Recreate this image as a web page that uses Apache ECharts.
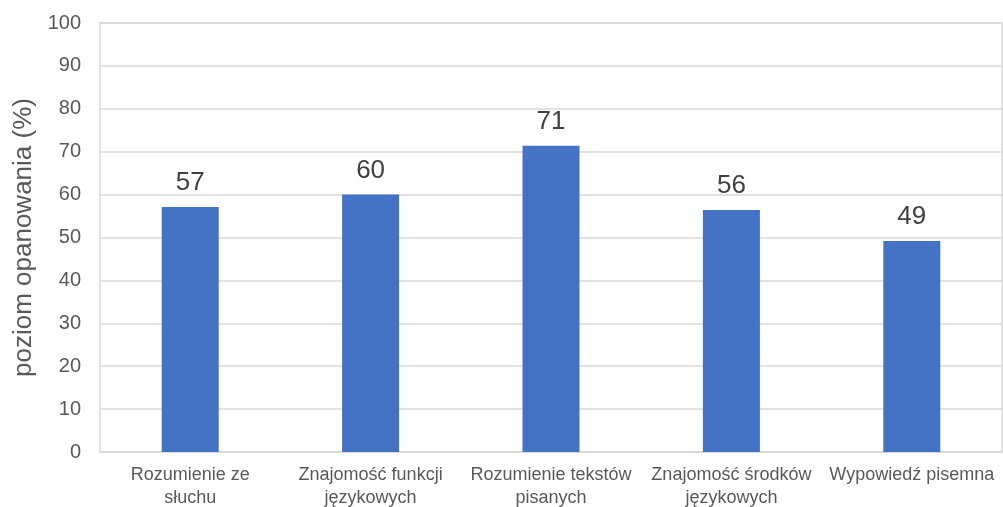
<!DOCTYPE html>
<html>
<head>
<meta charset="utf-8">
<script src="https://cdn.jsdelivr.net/npm/echarts@6/dist/echarts.min.js"></script>
<style>html,body{margin:0;padding:0;background:#fff;}#c{width:1003px;height:507px;}</style>
</head>
<body>
<div id="c"></div>
<script>
var categories = ["Rozumienie ze\nsłuchu", "Znajomość funkcji\njęzykowych", "Rozumienie tekstów\npisanych", "Znajomość środków\njęzykowych", "Wypowiedź pisemna"];
var values = [57.1, 60.0, 71.4, 56.4, 49.2];
var yTicks = {min: 0, max: 100, interval: 10};
var yName = "poziom opanowania (%)";

var chart = echarts.init(document.getElementById('c'), null, {renderer: 'canvas'});
chart.setOption({
  animation: false,
  backgroundColor: '#ffffff',
  grid: {left: 100, right: 1, top: 23, bottom: 55, containLabel: false, outerBoundsMode: 'none', show: true, borderColor: '#d9d9d9', borderWidth: 1.5, backgroundColor: 'transparent'},
  xAxis: {
    type: 'category',
    data: categories,
    axisLine: {show: true, lineStyle: {color: '#d9d9d9', width: 1.5}},
    axisTick: {show: false},
    axisLabel: {color: '#595959', fontSize: 18, fontFamily: 'Liberation Sans, Arial, sans-serif', lineHeight: 23, margin: 12, interval: 0}
  },
  yAxis: {
    type: 'value',
    min: yTicks.min, max: yTicks.max, interval: yTicks.interval,
    name: yName,
    nameLocation: 'middle',
    nameGap: 57,
    nameTextStyle: {color: '#595959', fontSize: 26, fontFamily: 'Liberation Sans, Arial, sans-serif'},
    axisLine: {show: false},
    axisTick: {show: false},
    axisLabel: {color: '#595959', fontSize: 20, fontFamily: 'Liberation Sans, Arial, sans-serif', margin: 19},
    splitLine: {lineStyle: {color: '#d9d9d9', width: 1.5}}
  },
  series: [{
    type: 'bar',
    data: values,
    barWidth: 57,
    itemStyle: {color: '#4472c4'},
    label: {
      show: true, position: 'top', distance: 11,
      color: '#404040', fontSize: 26, fontFamily: 'Liberation Sans, Arial, sans-serif',
      formatter: function(p){ return Math.round(p.value); }
    }
  }]
});
</script>
</body>
</html>
